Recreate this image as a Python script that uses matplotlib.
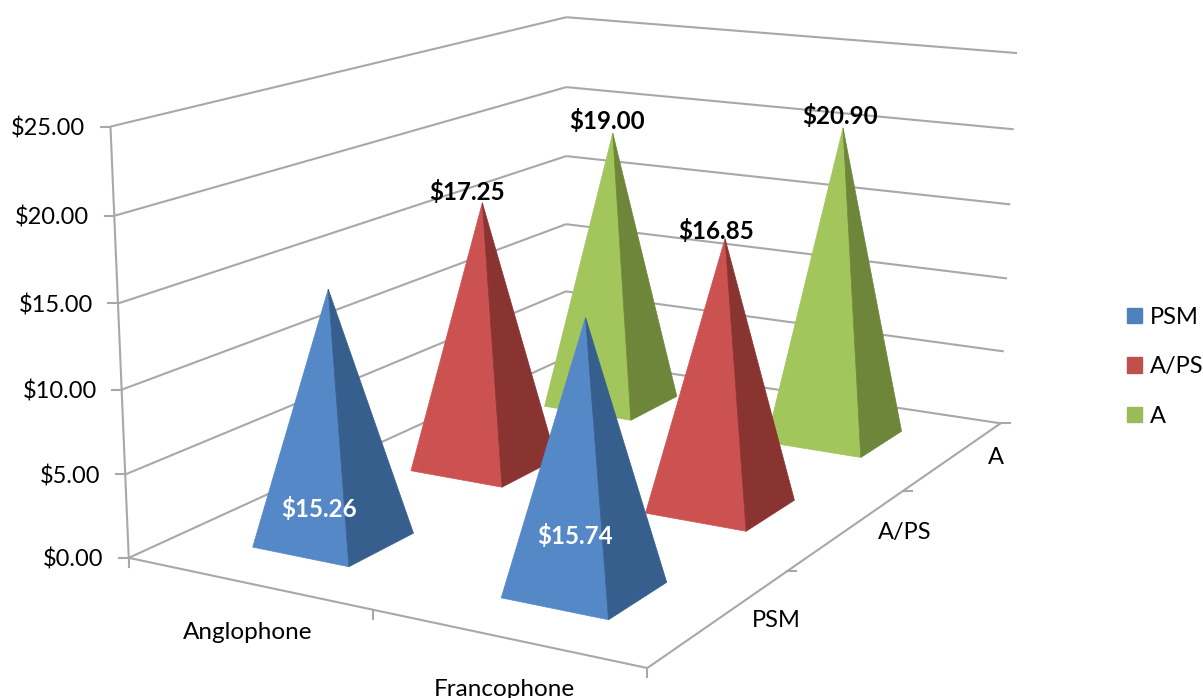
import numpy as np
import matplotlib
matplotlib.use("Agg")
import matplotlib.pyplot as plt
from matplotlib.patches import Patch

# ---- data ----
categories = ["Anglophone", "Francophone"]
series = ["PSM", "A/PS", "A"]
psm_values = [15.26, 15.74]
aps_values = [17.25, 16.85]
a_values = [19.00, 20.90]
value_ticks = [0, 5, 10, 15, 20, 25]

# ---- style ----
front_colors = ["#5488C7", "#CB5250", "#A2C55C"]
side_colors = ["#365F8E", "#8A3432", "#6E8639"]
legend_colors = ["#4F81BD", "#C0504D", "#9BBB59"]
grid_color = "#A8A8A8"
half_x, half_y = 0.20, 0.20
height_scale = 0.988
font = "Lato"
fs = 17.5
fs_tick = 17
fs_legend = 17
fs_bold = 17.4

# ---- camera: pixel anchors of the chart box -> 3-D projection matrix ----
anchors = [
    ((0, 0, 25), (110, 127)), ((0, 0, 20), (114, 216)), ((0, 0, 15), (118, 304)),
    ((0, 0, 10), (122, 390)), ((0, 0, 5), (126, 475)), ((0, 0, 0), (129, 557)),
    ((0, 3, 25), (567, 16)), ((0, 3, 20), (567, 87)), ((0, 3, 15), (567, 156)),
    ((0, 3, 10), (566, 224)), ((0, 3, 5), (565, 292)), ((0, 3, 0), (565, 358)),
    ((2, 3, 25), (1017, 53)), ((2, 3, 20), (1013, 129)), ((2, 3, 15), (1010, 205)),
    ((2, 3, 10), (1006, 279)), ((2, 3, 5), (1004, 352)), ((2, 3, 0), (1000, 423)),
    ((2, 0, 0), (645, 668)), ((1, 0, 0), (372, 609)),
    ((2, 1, 0), (790, 571)), ((2, 2, 0), (906, 490)),
]
A = []
b = []
for (X, Y, Z), (u, v) in anchors:
    A.append([X, Y, Z, 1, 0, 0, 0, 0, -u * X, -u * Y, -u * Z])
    A.append([0, 0, 0, 0, X, Y, Z, 1, -v * X, -v * Y, -v * Z])
    b += [u, v]
sol = np.linalg.lstsq(np.array(A, float), np.array(b, float), rcond=None)[0]
P = np.append(sol, 1.0).reshape(3, 4)


def proj(x, y, z):
    h = P @ np.array([x, y, z, 1.0])
    return h[0] / h[2], h[1] / h[2]


def line3(ax, p, q, lw=1.5, z=1):
    a, c = proj(*p), proj(*q)
    ax.plot([a[0], c[0]], [a[1], c[1]], color=grid_color, lw=lw, zorder=z,
            solid_capstyle="butt")


fig = plt.figure(figsize=(12.03, 6.98), dpi=100)
ax = fig.add_axes([0, 0, 1, 1])
ax.set_xlim(0, 1203)
ax.set_ylim(698, 0)
ax.axis("off")

n_cat, n_ser = len(categories), len(series)

# walls, gridlines and value ticks
for t in value_ticks:
    line3(ax, (0, 0, t), (0, n_ser, t))
    line3(ax, (0, n_ser, t), (n_cat, n_ser, t))
    px, py = proj(0, 0, t)
    ax.plot([px - 9.5, px], [py, py], color=grid_color, lw=1.5, zorder=1)
    ax.text(px - 25, py + 2, f"${t:.2f}", ha="right", va="center", family=font,
            fontsize=fs_tick, color="black")
line3(ax, (0, 0, 0), (0, 0, value_ticks[-1]))
line3(ax, (0, 0, 0), (n_cat, 0, 0))
line3(ax, (n_cat, 0, 0), (n_cat, n_ser, 0))

# floor ticks
for i in range(n_cat + 1):
    px, py = proj(i, 0, 0)
    ax.plot([px, px], [py, py + 9], color=grid_color, lw=1.5, zorder=1)
for j in range(1, n_ser + 1):
    px, py = proj(n_cat, j, 0)
    ax.plot([px, px + 9], [py, py], color=grid_color, lw=1.5, zorder=1)

# category labels
cat_offsets = [(-126, 23), (-143, 21)]
for i, name in enumerate(categories):
    px, py = proj(i + 1, 0, 0)
    ax.text(px + cat_offsets[i][0], py + cat_offsets[i][1], name,
            ha="center", va="center", family=font, fontsize=fs, color="black")
ser_offsets = [(-11, 49), (2, 42), (-5, 34)]
for j, name in enumerate(series):
    px, py = proj(n_cat, j + 1, 0)
    ax.text(px + ser_offsets[j][0], py + ser_offsets[j][1], name,
            ha="center", va="center", family=font, fontsize=fs_tick, color="black")

# pyramids, painted back to front
all_values = [psm_values, aps_values, a_values]
label_offsets = {
    (0, 0): (-9, 220, "white"), (1, 0): (-10.5, 218, "white"),
    (0, 1): (-15, -11, "black"), (1, 1): (-9, -8, "black"),
    (0, 2): (-6, -12, "black"), (1, 2): (-3, -12, "black"),
}
for j in reversed(range(n_ser)):
    for i in range(n_cat):
        v = all_values[j][i]
        cx, cy = i + 0.5, j + 0.5
        apex = proj(cx, cy, v * height_scale)
        fl = proj(cx - half_x, cy - half_y, 0)
        fr = proj(cx + half_x, cy - half_y, 0)
        br = proj(cx + half_x, cy + half_y, 0)
        ax.fill(*zip(fl, fr, apex), color=front_colors[j], lw=0.5, zorder=3 + (n_ser - j))
        ax.fill(*zip(fr, br, apex), color=side_colors[j], lw=0.5, zorder=3 + (n_ser - j))
        dx, dy, col = label_offsets[(i, j)]
        ax.text(apex[0] + dx, apex[1] + dy, f"${v:.2f}", ha="center", va="center",
                family=font, fontsize=fs_bold, fontweight="bold", color=col, zorder=10)

# legend
handles = [Patch(color=c, label=s) for c, s in zip(legend_colors, series)]
px_fs = fs_legend * 100 / 72
ax.legend(handles=handles, loc="upper left", bbox_to_anchor=(1127 / 1203, 1 - 307 / 698),
          frameon=False, borderpad=0, borderaxespad=0, prop={"family": font, "size": fs_legend},
          handlelength=15 / px_fs, handleheight=15 / px_fs, handletextpad=8 / px_fs,
          labelspacing=(52 - px_fs) / px_fs)

fig.savefig("out.png", dpi=100)
